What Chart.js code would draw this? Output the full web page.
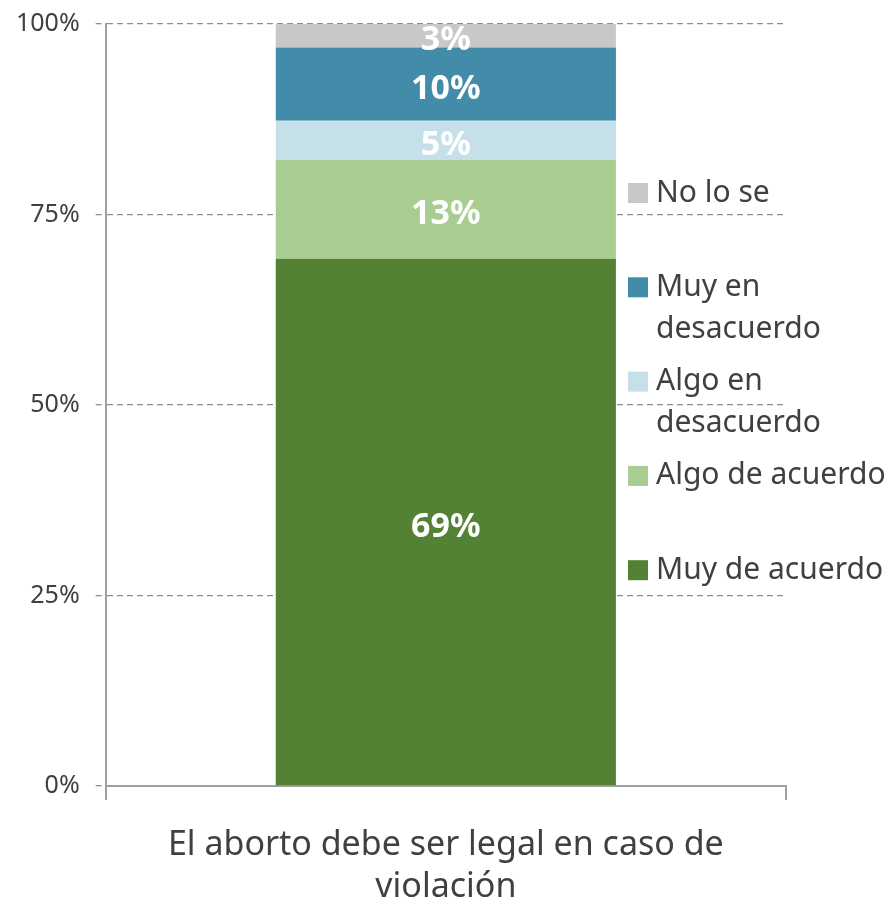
<!DOCTYPE html>
<html>
<head>
<meta charset="utf-8">
<script src="https://cdn.jsdelivr.net/npm/chart.js@4.4.0/dist/chart.umd.min.js"></script>
<style>
  html, body { margin: 0; padding: 0; background: #fff; }
  #wrap { width: 894px; height: 907px; }
</style>
</head>
<body>
<div id="wrap"><canvas id="myChart" width="894" height="907"></canvas></div>
<script>
// data
let categories = [["El aborto debe ser legal en caso de", "violación"]]
let muyDeAcuerdo = [69.2]
let algoDeAcuerdo = [13.0]
let algoEnDesacuerdo = [5.1]
let muyEnDesacuerdo = [9.6]
let noLoSe = [3.1]
let yTicks = [0, 25, 50, 75, 100]

let seriesNames = ["Muy de acuerdo", "Algo de acuerdo", "Algo en desacuerdo", "Muy en desacuerdo", "No lo se"]
let seriesColors = ["#548235", "#a9cd91", "#c6e0e9", "#428ca9", "#c8c8c8"]
let legendLines = {
    "Muy en desacuerdo": ["Muy en", "desacuerdo"],
    "Algo en desacuerdo": ["Algo en", "desacuerdo"]
}

let font = "'Noto Sans', 'Open Sans', sans-serif"
let textColor = "#404040"

// white % labels centred in every segment
const barLabels = {
    id: 'barLabels',
    afterDatasetsDraw(chart) {
        let ctx = chart.ctx
        ctx.save()
        ctx.fillStyle = '#fff'
        ctx.font = "bold 34px " + font
        ctx.textAlign = 'center'
        ctx.textBaseline = 'middle'
        chart.data.datasets.forEach((ds, i) => {
            let meta = chart.getDatasetMeta(i)
            meta.data.forEach((bar, j) => {
                let mid = (bar.y + bar.base) / 2
                ctx.fillText(Math.round(ds.data[j]) + '%', bar.x, mid + 5)
            })
        })
        ctx.restore()
    }
}

// legend on the right, reversed, with wrapped names
const sideLegend = {
    id: 'sideLegend',
    afterDraw(chart) {
        let ctx = chart.ctx
        ctx.save()
        ctx.font = "30px " + font
        ctx.textBaseline = 'middle'
        ctx.textAlign = 'left'
        let items = chart.data.datasets.map((ds, i) => ({ name: ds.label, color: ds.backgroundColor })).reverse()
        items.forEach((it, i) => {
            let y = 193 + i * 94.3
            ctx.fillStyle = it.color
            ctx.fillRect(628, y - 10, 20, 20)
            ctx.fillStyle = textColor
            let lines = legendLines[it.name] || [it.name]
            lines.forEach((ln, k) => {
                ctx.fillText(ln, 656, y + k * 42)
            })
        })
        ctx.restore()
    }
}

let datasetsValues = [muyDeAcuerdo, algoDeAcuerdo, algoEnDesacuerdo, muyEnDesacuerdo, noLoSe]

new Chart(document.getElementById('myChart'), {
    type: 'bar',
    data: {
        labels: categories,
        datasets: datasetsValues.map((vals, i) => ({
            label: seriesNames[i],
            data: vals,
            backgroundColor: seriesColors[i],
            borderWidth: 0,
            barPercentage: 1,
            categoryPercentage: 0.5
        }))
    },
    options: {
        responsive: false,
        animation: false,
        layout: {
            padding: { left: 0, right: 108, top: 24, bottom: 0 }
        },
        plugins: {
            legend: { display: false },
            tooltip: { enabled: false }
        },
        scales: {
            x: {
                stacked: true,
                afterFit(axis) {
                    axis.height = 121
                },
                grid: {
                    display: true,
                    drawOnChartArea: false,
                    drawTicks: true,
                    tickLength: 14,
                    color: '#a0a0a0',
                    lineWidth: 2
                },
                border: { display: true, color: '#a0a0a0', width: 2 },
                ticks: {
                    color: textColor,
                    font: { family: font, size: 34, lineHeight: 1.24 },
                    padding: 24
                }
            },
            y: {
                stacked: true,
                min: 0,
                max: 100,
                afterBuildTicks(axis) {
                    axis.ticks = yTicks.map(v => ({ value: v }))
                },
                afterFit(axis) {
                    axis.paddingTop = 0
                    axis.paddingBottom = 0
                },
                grid: {
                    color: '#8f8f8f',
                    lineWidth: 1.3,
                    tickLength: 10,
                    tickBorderDash: [6, 4],
                    tickColor: '#8f8f8f'
                },
                border: { display: true, color: '#a0a0a0', width: 2, dash: [6, 4] },
                ticks: {
                    color: textColor,
                    font: { family: font, size: 25 },
                    padding: 16,
                    callback: v => v + '%'
                }
            }
        }
    },
    plugins: [barLabels, sideLegend]
})
</script>
</body>
</html>
